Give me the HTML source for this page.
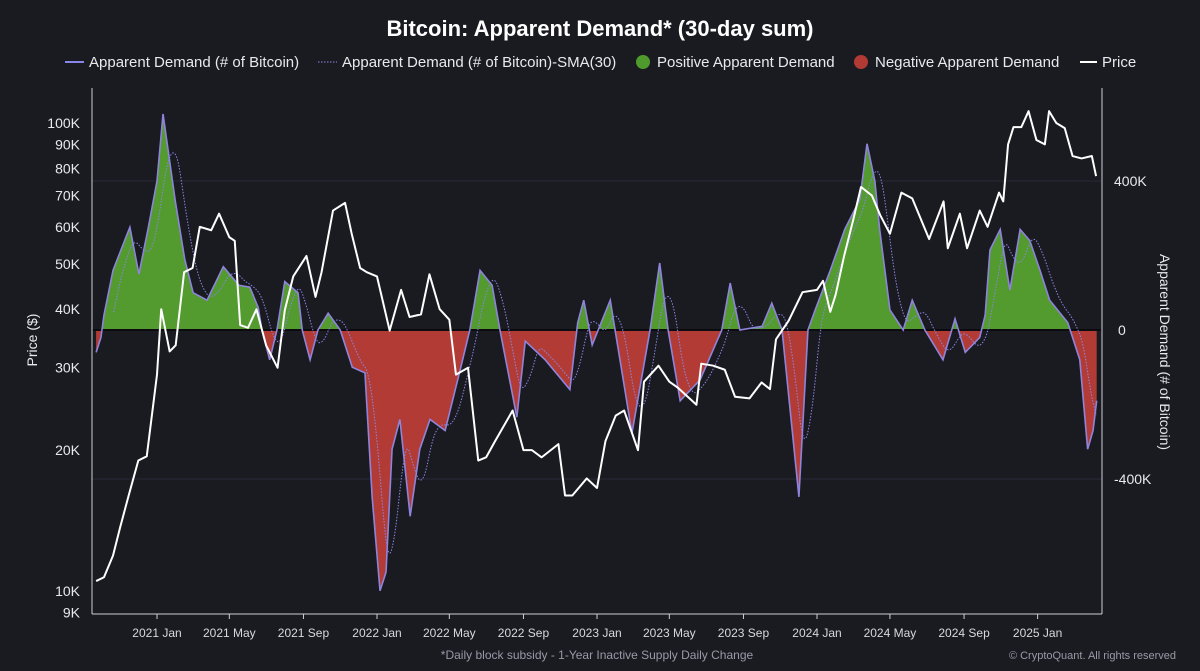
<!DOCTYPE html>
<html><head><meta charset="utf-8"><style>
html,body{margin:0;padding:0;background:#1a1a21;}
svg{display:block;font-family:"Liberation Sans",sans-serif;}
</style></head><body>
<svg id="chart" width="1200" height="671" viewBox="0 0 1200 671">
<rect x="0" y="0" width="1200" height="671" fill="#1a1a21"/>
<text x="600" y="36" text-anchor="middle" fill="#ffffff" font-size="22" font-weight="bold">Bitcoin: Apparent Demand* (30-day sum)</text>
<g font-size="15" fill="#e8e8ee">
 <g><line x1="65" y1="62" x2="84" y2="62" stroke="#8a86e8" stroke-width="2"/><text x="89" y="67">Apparent Demand (# of Bitcoin)</text></g>
 <g><line x1="318" y1="62" x2="337" y2="62" stroke="#8a86e8" stroke-width="1" stroke-dasharray="1.5,1.5"/><text x="342" y="67">Apparent Demand (# of Bitcoin)-SMA(30)</text></g>
 <g><circle cx="643" cy="62" r="7" fill="#4f9a2c"/><text x="657" y="67">Positive Apparent Demand</text></g>
 <g><circle cx="861" cy="62" r="7" fill="#b23a34"/><text x="875" y="67">Negative Apparent Demand</text></g>
 <g><line x1="1080" y1="62" x2="1097" y2="62" stroke="#ffffff" stroke-width="2"/><text x="1102" y="67">Price</text></g>
</g>
<g id="grid"></g>
<g id="areas"></g>
<g id="lines"></g>
<g id="axes"></g>
<text x="0" y="0" transform="translate(37,340) rotate(-90)" text-anchor="middle" fill="#e8e8ee" font-size="14">Price ($)</text>
<text x="0" y="0" transform="translate(1160,352) rotate(90)" text-anchor="middle" fill="#e8e8ee" font-size="14">Apparent Demand (# of Bitcoin)</text>
<text x="597" y="659" text-anchor="middle" fill="#9a9aa6" font-size="12">*Daily block subsidy - 1-Year Inactive Supply Daily Change</text>
<text x="1176" y="659" text-anchor="end" fill="#9a9aa6" font-size="11">© CryptoQuant. All rights reserved</text>
</svg>
<script>
const priceDates=["2020-09-22","2020-10-05","2020-10-20","2020-11-01","2020-11-15","2020-12-01","2020-12-15","2021-01-01","2021-01-08","2021-01-22","2021-02-01","2021-02-15","2021-03-01","2021-03-13","2021-04-01","2021-04-14","2021-05-01","2021-05-10","2021-05-19","2021-06-01","2021-06-15","2021-07-01","2021-07-20","2021-08-01","2021-08-15","2021-09-06","2021-09-21","2021-10-01","2021-10-20","2021-11-09","2021-11-20","2021-12-04","2021-12-15","2022-01-01","2022-01-22","2022-02-10","2022-02-24","2022-03-15","2022-03-29","2022-04-15","2022-05-01","2022-05-12","2022-06-01","2022-06-18","2022-07-01","2022-07-15","2022-08-14","2022-09-01","2022-09-15","2022-10-01","2022-10-29","2022-11-09","2022-11-21","2022-12-15","2023-01-01","2023-01-15","2023-02-01","2023-02-15","2023-03-10","2023-03-20","2023-04-13","2023-05-01","2023-05-15","2023-06-15","2023-06-23","2023-07-13","2023-08-01","2023-08-18","2023-09-11","2023-10-01","2023-10-15","2023-10-25","2023-11-15","2023-12-08","2024-01-01","2024-01-11","2024-01-23","2024-02-01","2024-02-15","2024-03-01","2024-03-14","2024-04-01","2024-04-15","2024-05-01","2024-05-20","2024-06-07","2024-07-05","2024-07-29","2024-08-05","2024-08-25","2024-09-06","2024-09-27","2024-10-10","2024-10-29","2024-11-05","2024-11-13","2024-11-22","2024-12-05","2024-12-17","2024-12-30","2025-01-13","2025-01-20","2025-02-01","2025-02-15","2025-02-28","2025-03-15","2025-04-01","2025-04-08"];
const priceValues=[10.5,10.7,11.9,13.7,16,19,19.4,29,40,32.5,33.5,48,49,60,59,64,57,56,37,36.5,40,33.5,30,39.8,47,52,42.5,48,65,67.5,58,49,48,47,36,44,38.5,39,47.5,40,38,29,30,19,19.3,20.8,24.3,20,20,19.3,20.6,16,16,17.4,16.6,20.9,23.7,24.3,20,28,30.3,28,27.2,25,30.6,30.3,29.7,26,25.8,27.9,27,34.5,37.8,43.5,44,46,39.5,43,52,62,73,70,63.5,58,71,69,56.5,68,54,64,54,65,60,71,68,90,98,98,106,92,90,106,100,97.5,85,84,85,77];
const demandDates=["2020-09-22","2020-09-30","2020-10-05","2020-10-20","2020-11-17","2020-12-02","2020-12-17","2021-01-01","2021-01-11","2021-01-31","2021-02-16","2021-03-02","2021-03-25","2021-04-21","2021-05-17","2021-06-04","2021-06-18","2021-06-24","2021-07-07","2021-07-19","2021-08-01","2021-08-23","2021-08-30","2021-09-12","2021-09-25","2021-10-12","2021-11-01","2021-11-21","2021-12-12","2021-12-24","2022-01-06","2022-01-16","2022-01-26","2022-02-08","2022-02-25","2022-03-13","2022-03-30","2022-04-24","2022-05-19","2022-06-04","2022-06-21","2022-07-11","2022-07-24","2022-08-21","2022-09-04","2022-10-07","2022-11-17","2022-11-30","2022-12-10","2022-12-24","2023-01-03","2023-01-23","2023-01-31","2023-02-28","2023-03-30","2023-04-15","2023-04-29","2023-05-19","2023-06-21","2023-07-27","2023-08-10","2023-08-26","2023-10-02","2023-10-18","2023-11-04","2023-12-02","2023-12-17","2023-12-29","2024-01-23","2024-02-16","2024-03-12","2024-03-24","2024-04-06","2024-04-14","2024-05-01","2024-05-23","2024-06-07","2024-06-28","2024-07-28","2024-08-17","2024-09-03","2024-09-27","2024-10-06","2024-10-14","2024-10-31","2024-11-16","2024-12-03","2024-12-19","2025-01-05","2025-01-21","2025-02-20","2025-02-24","2025-03-12","2025-03-25","2025-04-03","2025-04-09"];
const demandValues=[-60,-20,40,160,276,150,270,400,580,350,190,100,80,170,120,115,60,0,-80,0,130,100,0,-80,0,45,0,-100,-115,-450,-700,-650,-320,-240,-500,-320,-240,-270,-107,0,160,120,0,-234,-30,-80,-160,20,80,-40,0,80,0,-277,0,180,0,-190,-134,0,126,0,10,72,0,-448,0,54,160,270,350,500,400,270,54,0,80,0,-80,30,-60,-20,40,215,270,107,270,240,160,80,20,0,-80,-320,-270,-190];
const leftTicks=[9000,10000,20000,30000,40000,50000,60000,70000,80000,90000,100000];
const leftTickLabels=["9K","10K","20K","30K","40K","50K","60K","70K","80K","90K","100K"];
const rightTicks=[-400,0,400];
const rightTickLabels=["-400K","0","400K"];
const xTickDates=["2021-01-01","2021-05-01","2021-09-01","2022-01-01","2022-05-01","2022-09-01","2023-01-01","2023-05-01","2023-09-01","2024-01-01","2024-05-01","2024-09-01","2025-01-01"];
const xTickLabels=["2021 Jan","2021 May","2021 Sep","2022 Jan","2022 May","2022 Sep","2023 Jan","2023 May","2023 Sep","2024 Jan","2024 May","2024 Sep","2025 Jan"];

const NS="http://www.w3.org/2000/svg";
const DAY=86400000;
const t0=Date.parse("2021-01-01");
function xScale(d){return 157+(Date.parse(d)-t0)/DAY*(220/365);}
function xDay(ms){return 157+(ms-t0)/DAY*(220/365);}
function yPrice(v){return 591-(Math.log10(v)-4)*468;}
function yDemand(v){return 330-v*149/400;}
function mk(tag,attrs,parent){const e=document.createElementNS(NS,tag);for(const k in attrs)e.setAttribute(k,attrs[k]);parent.appendChild(e);return e;}
const grid=document.getElementById('grid'),areas=document.getElementById('areas'),lines=document.getElementById('lines'),axes=document.getElementById('axes');

// gridlines
rightTicks.forEach(v=>{if(v===0)return;const l=mk('line',{x1:92,x2:1102,y1:yDemand(v),y2:yDemand(v),stroke:'#2b2b36','stroke-width':1},grid);

});

// daily interpolation of demand
const dms=demandDates.map(d=>Date.parse(d));
const daily=[];
for(let t=dms[0];t<=dms[dms.length-1];t+=DAY){
  let i=0;while(i<dms.length-2&&dms[i+1]<t)i++;
  const f=(t-dms[i])/(dms[i+1]-dms[i]);
  daily.push({t:t,v:demandValues[i]+(demandValues[i+1]-demandValues[i])*Math.max(0,Math.min(1,f))});
}
function areaPath(sign){
  let p='M'+xDay(daily[0].t)+','+yDemand(0);
  daily.forEach(o=>{const v=sign>0?Math.max(o.v,0):Math.min(o.v,0);p+=' L'+xDay(o.t).toFixed(2)+','+yDemand(v).toFixed(2);});
  p+=' L'+xDay(daily[daily.length-1].t)+','+yDemand(0)+' Z';return p;
}
const pos=mk('path',{d:areaPath(1),fill:'#539a2f'},areas);


const neg=mk('path',{d:areaPath(-1),fill:'#b23c35'},areas);


const zl=mk('line',{x1:92,x2:1102,y1:yDemand(0),y2:yDemand(0),stroke:'#0c0c10','stroke-width':2},areas);



// demand line
let dp='';daily.forEach((o,i)=>{dp+=(i?' L':'M')+xDay(o.t).toFixed(2)+','+yDemand(o.v).toFixed(2);});
const dl=mk('path',{d:dp,fill:'none',stroke:'#8f84dc','stroke-width':1.6},lines);


// SMA 30
let sp='';for(let i=29;i<daily.length;i++){let s=0;for(let j=i-29;j<=i;j++)s+=daily[j].v;sp+=(i>29?' L':'M')+xDay(daily[i].t).toFixed(2)+','+yDemand(s/30).toFixed(2);}
const sl=mk('path',{d:sp,fill:'none',stroke:'#8a86e8','stroke-width':1,'stroke-dasharray':'1.5,1.5'},lines);


// price
let pp='';priceDates.forEach((d,i)=>{pp+=(i?' L':'M')+xScale(d).toFixed(2)+','+yPrice(priceValues[i]*1000).toFixed(2);});
const pl=mk('path',{d:pp,fill:'none',stroke:'#ffffff','stroke-width':2,'stroke-linejoin':'round'},lines);



// axes
[[92,88,92,614],[1102,88,1102,614],[92,614,1102,614]].forEach(a=>{const l=mk('line',{x1:a[0],y1:a[1],x2:a[2],y2:a[3],stroke:'#cfcfd6','stroke-width':1},axes);

});
leftTicks.forEach((v,i)=>{const t=mk('text',{x:80,y:yPrice(v)+5,'text-anchor':'end',fill:'#e8e8ee','font-size':14},axes);t.textContent=leftTickLabels[i];

});
rightTicks.forEach((v,i)=>{const t=mk('text',{x:v===0?1118:1114,y:yDemand(v)+5,'text-anchor':'start',fill:'#e8e8ee','font-size':14},axes);t.textContent=rightTickLabels[i];

});
xTickDates.forEach((d,i)=>{const x=xScale(d);const tk=mk('line',{x1:x,x2:x,y1:614,y2:619,stroke:'#cfcfd6'},axes);


const t=mk('text',{x:x,y:637,'text-anchor':'middle',fill:'#d8d8e0','font-size':12},axes);t.textContent=xTickLabels[i];

});
</script>
</body></html>
